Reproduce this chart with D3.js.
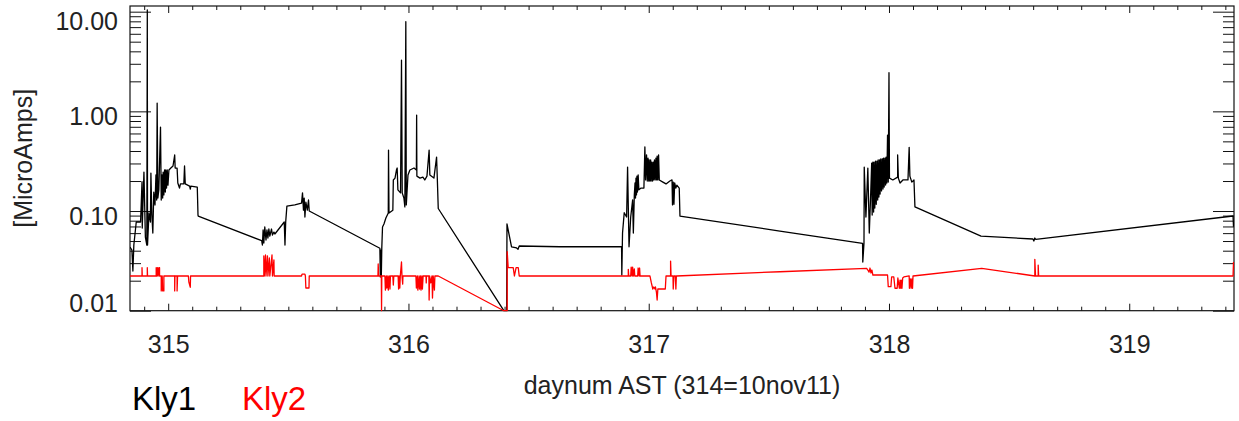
<!DOCTYPE html>
<html>
<head>
<meta charset="utf-8">
<script src="https://cdn.jsdelivr.net/npm/d3@7"></script>
<style>
body { margin: 0; background: #fff; }
svg { display: block; font-family: "Liberation Sans", Arial, Helvetica, sans-serif; }
</style>
</head>
<body>
<svg id="chart"></svg>
<script>
// Kly1 current [day, microamps]
var kly1 = [
  [314.841,0.0435],[314.849,0.0406],[314.853,0.0250],[314.857,0.0456],[314.867,0.0776],[314.885,0.0776],
  [314.891,0.197],[314.892,0.0675],[314.899,0.246],[314.905,0.0548],[314.911,0.0456],[314.913,10.4],
  [314.914,0.0456],[314.920,0.0955],[314.926,0.0776],[314.928,0.240],[314.932,0.0912],[314.936,0.0602],
  [314.940,0.155],[314.945,0.115],[314.949,0.230],[314.952,0.129],[314.954,1.21],[314.957,0.135],
  [314.961,0.163],[314.968,0.696],[314.971,0.129],[314.974,0.230],[314.977,0.135],[314.979,0.246],
  [314.982,0.145],[314.985,0.258],[314.988,0.155],[314.990,0.258],[314.993,0.170],[314.996,0.258],
  [314.999,0.182],[315.003,0.258],[315.011,0.270],[315.020,0.283],[315.027,0.365],[315.029,0.270],
  [315.037,0.270],[315.040,0.191],[315.047,0.170],[315.051,0.187],[315.065,0.187],[315.068,0.283],
  [315.071,0.187],[315.089,0.178],[315.092,0.166],[315.094,0.178],[315.121,0.174],[315.124,0.0912],
  [315.125,0.0891],[315.389,0.0504],[315.392,0.0456],[315.395,0.0645],[315.398,0.0478],[315.402,0.0692],
  [315.407,0.0512],[315.411,0.0645],[315.415,0.0536],[315.419,0.0660],[315.423,0.0561],[315.430,0.0660],
  [315.434,0.0574],[315.440,0.0615],[315.444,0.0588],[315.483,0.0776],[315.486,0.0456],[315.489,0.0776],
  [315.494,0.112],[315.527,0.115],[315.555,0.120],[315.559,0.152],[315.563,0.102],[315.566,0.135],
  [315.569,0.0871],[315.573,0.123],[315.579,0.102],[315.584,0.129],[315.587,0.100],[315.881,0.0423],
  [315.883,0.0218],[315.885,0.0406],[315.887,0.0218],[315.889,0.0426],[315.892,0.0692],[315.898,0.0741],
  [315.906,0.0851],[315.916,0.0955],[315.917,0.409],[315.919,0.0955],[315.935,0.102],[315.937,0.205],
  [315.944,0.214],[315.950,0.258],[315.953,0.270],[315.956,0.163],[315.967,0.152],[315.971,3.27],
  [315.974,0.152],[315.981,0.135],[315.985,0.110],[315.989,7.92],[315.991,0.115],[315.998,0.230],
  [316.006,0.258],[316.023,0.270],[316.033,0.258],[316.034,0.918],[316.035,0.224],[316.048,0.214],
  [316.060,0.219],[316.068,0.205],[316.077,0.224],[316.086,0.409],[316.089,0.230],[316.106,0.214],
  [316.117,0.348],[316.120,0.214],[316.124,0.106],[316.397,0.0100],[316.409,0.0100],[316.410,0.0741],
  [316.429,0.0438],[316.450,0.0426],[316.456,0.0413],[316.461,0.0446],[316.630,0.0438],[316.887,0.0438],
  [316.888,0.0228],[316.891,0.0602],[316.898,0.0961],[316.908,0.0871],[316.912,0.276],[316.918,0.0438],
  [316.925,0.0871],[316.933,0.129],[316.936,0.0602],[316.940,0.145],[316.943,0.191],[316.945,0.135],
  [316.947,0.214],[316.949,0.145],[316.951,0.224],[316.953,0.155],[316.956,0.230],[316.959,0.163],
  [316.968,0.170],[316.980,0.170],[316.984,0.439],[316.987,0.205],[316.991,0.365],[316.994,0.200],
  [316.997,0.340],[317.000,0.200],[317.002,0.325],[317.005,0.200],[317.008,0.325],[317.010,0.200],
  [317.013,0.310],[317.016,0.200],[317.019,0.310],[317.021,0.205],[317.024,0.325],[317.027,0.205],
  [317.030,0.340],[317.033,0.205],[317.035,0.356],[317.038,0.205],[317.041,0.365],[317.044,0.205],
  [317.059,0.195],[317.072,0.187],[317.088,0.200],[317.097,0.205],[317.099,0.115],[317.102,0.195],
  [317.105,0.117],[317.108,0.191],[317.113,0.170],[317.117,0.182],[317.127,0.170],[317.130,0.0891],
  [317.546,0.0630],[317.890,0.0474],[317.891,0.0308],[317.896,0.0478],[317.897,0.276],[317.904,0.0871],
  [317.912,0.270],[317.918,0.0602],[317.923,0.129],[317.928,0.303],[317.930,0.0912],[317.933,0.310],
  [317.936,0.0977],[317.938,0.310],[317.941,0.107],[317.944,0.317],[317.947,0.117],[317.950,0.317],
  [317.953,0.129],[317.955,0.325],[317.958,0.138],[317.961,0.325],[317.963,0.148],[317.966,0.333],
  [317.969,0.159],[317.972,0.333],[317.975,0.166],[317.977,0.340],[317.980,0.174],[317.983,0.340],
  [317.986,0.182],[317.988,0.348],[317.991,0.191],[317.994,0.578],[317.997,0.195],[318.000,2.44],
  [318.002,0.214],[318.016,0.205],[318.036,0.219],[318.036,0.365],[318.039,0.214],[318.046,0.191],
  [318.058,0.205],[318.079,0.205],[318.084,0.435],[318.087,0.224],[318.095,0.195],[318.104,0.205],
  [318.108,0.110],[318.383,0.0561],[318.599,0.0524],[318.603,0.0500],[318.607,0.0536],[318.611,0.0520],
  [319.432,0.0891],[319.434,0.0696]
];

// Kly2 current [day, microamps]
var kly2 = [
  [314.841,0.0223],
  [314.891,0.0223],[314.891,0.0270],[314.892,0.0223],
  [314.913,0.0223],[314.913,0.0270],[314.914,0.0223],
  [314.950,0.0223],[314.950,0.0270],[314.953,0.0223],[314.955,0.0270],[314.958,0.0223],[314.961,0.0270],[314.964,0.0270],[314.964,0.0223],
  [314.971,0.0223],[314.971,0.0158],[314.975,0.0223],[314.977,0.0158],[314.982,0.0158],[314.982,0.0223],
  [315.027,0.0223],[315.027,0.0158],[315.028,0.0223],
  [315.037,0.0223],[315.037,0.0158],[315.039,0.0223],
  [315.084,0.0223],[315.086,0.0194],[315.092,0.0172],[315.093,0.0223],
  [315.398,0.0223],[315.398,0.0354],[315.400,0.0223],[315.405,0.0362],[315.407,0.0223],[315.413,0.0354],[315.415,0.0223],
  [315.421,0.0338],[315.423,0.0223],[315.432,0.0362],[315.434,0.0223],[315.440,0.0323],[315.441,0.0223],
  [315.555,0.0223],[315.557,0.0233],[315.569,0.0233],[315.571,0.0223],[315.573,0.0169],[315.586,0.0169],[315.587,0.0223],
  [315.873,0.0223],[315.874,0.0294],[315.876,0.0223],
  [315.887,0.0223],[315.888,0.0100],[315.889,0.0223],
  [315.902,0.0223],[315.904,0.0161],[315.908,0.0223],[315.910,0.0169],[315.914,0.0223],[315.916,0.0161],[315.920,0.0223],[315.923,0.0165],[315.925,0.0223],
  [315.935,0.0223],[315.937,0.0181],[315.939,0.0223],
  [315.957,0.0223],[315.959,0.0165],[315.961,0.0223],[315.964,0.0169],[315.966,0.0223],
  [315.971,0.0308],[315.973,0.0223],[315.976,0.0185],[315.977,0.0223],
  [316.031,0.0223],[316.033,0.0169],[316.037,0.0223],[316.039,0.0161],[316.044,0.0223],[316.046,0.0165],[316.050,0.0223],
  [316.052,0.0161],[316.056,0.0223],[316.058,0.0165],[316.061,0.0223],
  [316.073,0.0223],[316.074,0.0190],[316.075,0.0223],
  [316.085,0.0223],[316.086,0.0128],[316.088,0.0223],[316.093,0.0190],[316.098,0.0223],[316.100,0.0134],[316.103,0.0223],[316.108,0.0161],[316.110,0.0223],
  [316.124,0.0223],[316.397,0.0100],
  [316.411,0.0100],[316.411,0.0391],[316.415,0.0270],[316.436,0.0270],[316.441,0.0223],[316.448,0.0270],[316.457,0.0270],[316.461,0.0223],
  [316.915,0.0223],[316.915,0.0260],[316.917,0.0223],[316.925,0.0223],[316.927,0.0274],[316.931,0.0223],[316.933,0.0274],[316.936,0.0223],
  [316.940,0.0262],[316.942,0.0223],[316.954,0.0223],[316.956,0.0268],[316.960,0.0223],[316.962,0.0268],[316.964,0.0223],
  [317.005,0.0223],[317.011,0.0190],[317.017,0.0165],[317.021,0.0173],[317.026,0.0165],[317.028,0.0173],[317.032,0.0154],
  [317.035,0.0128],[317.038,0.0165],[317.051,0.0165],[317.059,0.0165],[317.069,0.0165],[317.072,0.0223],
  [317.091,0.0223],[317.091,0.0315],[317.093,0.0223],[317.101,0.0223],[317.102,0.0165],[317.105,0.0223],[317.111,0.0223],[317.113,0.0165],[317.115,0.0223],
  [317.546,0.0246],[317.907,0.0266],
  [317.912,0.0256],[317.917,0.0244],[317.921,0.0268],[317.925,0.0239],[317.929,0.0256],[317.933,0.0228],
  [317.994,0.0228],[317.997,0.0174],[318.008,0.0174],[318.011,0.0218],[318.020,0.0218],[318.025,0.0168],[318.034,0.0168],
  [318.037,0.0213],[318.043,0.0168],[318.046,0.0203],[318.049,0.0168],[318.051,0.0203],[318.054,0.0168],[318.057,0.0213],
  [318.062,0.0218],[318.084,0.0223],[318.085,0.0168],[318.089,0.0208],[318.092,0.0168],[318.095,0.0208],[318.098,0.0168],[318.100,0.0223],
  [318.386,0.0266],
  [318.607,0.0223],[318.607,0.0328],[318.610,0.0223],[318.621,0.0223],[318.621,0.0287],[318.623,0.0223],
  [319.432,0.0223],[319.434,0.0308]
];

var xTicks = [315, 316, 317, 318, 319];
var yTicks = [0.01, 0.1, 1, 10];
var yLabels = ["0.01", "0.10", "1.00", "10.00"];
var seriesNames = ["Kly1", "Kly2"];
var seriesColors = ["#000000", "#ff0000"];
var seriesData = [kly1, kly2];

var width = 1239, height = 421;
var plotLeft = 130, plotRight = 1234, plotTop = 6, plotBottom = 310.7;

var svg = d3.select("#chart")
    .attr("width", width)
    .attr("height", height);

var x = d3.scaleLinear().domain([314.841, 319.436]).range([plotLeft, plotRight]);
var y = d3.scaleLog().domain([0.01, 11.4]).range([plotBottom, plotTop]);

// minor ticks every 0.1 day, and 2..9 in each decade
var xMinor = d3.range(Math.ceil(x.domain()[0] * 10), Math.floor(x.domain()[1] * 10) + 1)
    .map(d => d / 10)
    .filter(d => Math.abs(d - Math.round(d)) > 1e-6);
var yMinor = y.ticks().filter(d => yTicks.indexOf(d) < 0);

function cleanAxis(g) {
  g.select(".domain").remove();
  g.selectAll("line").attr("stroke", "#111").attr("stroke-width", 1);
}

// bottom axis
svg.append("g")
    .attr("transform", "translate(0," + plotBottom + ")")
    .call(d3.axisBottom(x).tickValues(xTicks).tickSize(-7).tickPadding(25).tickFormat(d3.format("d")))
    .call(cleanAxis)
    .call(g => g.selectAll("text").attr("font-size", 25).attr("fill", "#222").attr("font-family", null));
svg.append("g")
    .attr("transform", "translate(0," + plotBottom + ")")
    .call(d3.axisBottom(x).tickValues(xMinor).tickSize(-4).tickFormat(""))
    .call(cleanAxis);

// top axis
svg.append("g")
    .attr("transform", "translate(0," + plotTop + ")")
    .call(d3.axisTop(x).tickValues(xTicks).tickSize(-7).tickFormat(""))
    .call(cleanAxis);
svg.append("g")
    .attr("transform", "translate(0," + plotTop + ")")
    .call(d3.axisTop(x).tickValues(xMinor).tickSize(-4).tickFormat(""))
    .call(cleanAxis);

// left axis
svg.append("g")
    .attr("transform", "translate(" + plotLeft + ",0)")
    .call(d3.axisLeft(y).tickValues(yTicks).tickSize(-21).tickPadding(12).tickFormat((d, i) => yLabels[i]))
    .call(cleanAxis)
    .call(g => g.selectAll("text")
        .attr("font-size", 25).attr("fill", "#222").attr("font-family", null)
        .attr("dy", "0.36em")
        .attr("y", d => Math.max(plotTop + 14, Math.min(plotBottom - 8, y(d) + 4)) - y(d)));
svg.append("g")
    .attr("transform", "translate(" + plotLeft + ",0)")
    .call(d3.axisLeft(y).tickValues(yMinor).tickSize(-11).tickFormat(""))
    .call(cleanAxis);

// right axis
svg.append("g")
    .attr("transform", "translate(" + plotRight + ",0)")
    .call(d3.axisRight(y).tickValues(yTicks).tickSize(-21).tickFormat(""))
    .call(cleanAxis);
svg.append("g")
    .attr("transform", "translate(" + plotRight + ",0)")
    .call(d3.axisRight(y).tickValues(yMinor).tickSize(-11).tickFormat(""))
    .call(cleanAxis);

// plot frame
svg.append("rect")
    .attr("x", plotLeft).attr("y", plotTop)
    .attr("width", plotRight - plotLeft).attr("height", plotBottom - plotTop)
    .attr("fill", "none").attr("stroke", "#111").attr("stroke-width", 1.2);

svg.append("clipPath").attr("id", "plotclip")
  .append("rect")
    .attr("x", plotLeft).attr("y", plotTop - 1)
    .attr("width", plotRight - plotLeft).attr("height", plotBottom - plotTop + 2);

var line = d3.line()
    .x(d => x(d[0]))
    .y(d => y(d[1]));

svg.append("g")
    .attr("clip-path", "url(#plotclip)")
  .selectAll("path")
  .data(seriesData)
  .join("path")
    .attr("d", line)
    .attr("fill", "none")
    .attr("stroke", (d, i) => seriesColors[i])
    .attr("stroke-width", 1.3)
    .attr("stroke-linejoin", "round");

// axis titles
svg.append("text")
    .attr("x", (plotLeft + plotRight) / 2)
    .attr("y", 394)
    .attr("text-anchor", "middle")
    .attr("font-size", 25)
    .attr("fill", "#222")
    .text("daynum AST (314=10nov11)");

svg.append("text")
    .attr("transform", "translate(32," + ((plotTop + plotBottom) / 2) + ") rotate(-90)")
    .attr("text-anchor", "middle")
    .attr("font-size", 25)
    .attr("fill", "#222")
    .text("[MicroAmps]");

// legend
svg.append("g")
  .selectAll("text")
  .data(seriesNames)
  .join("text")
    .attr("x", (d, i) => 132 + i * 110)
    .attr("y", 410)
    .attr("font-size", 33)
    .attr("fill", (d, i) => seriesColors[i])
    .text(d => d);
</script>
</body>
</html>
